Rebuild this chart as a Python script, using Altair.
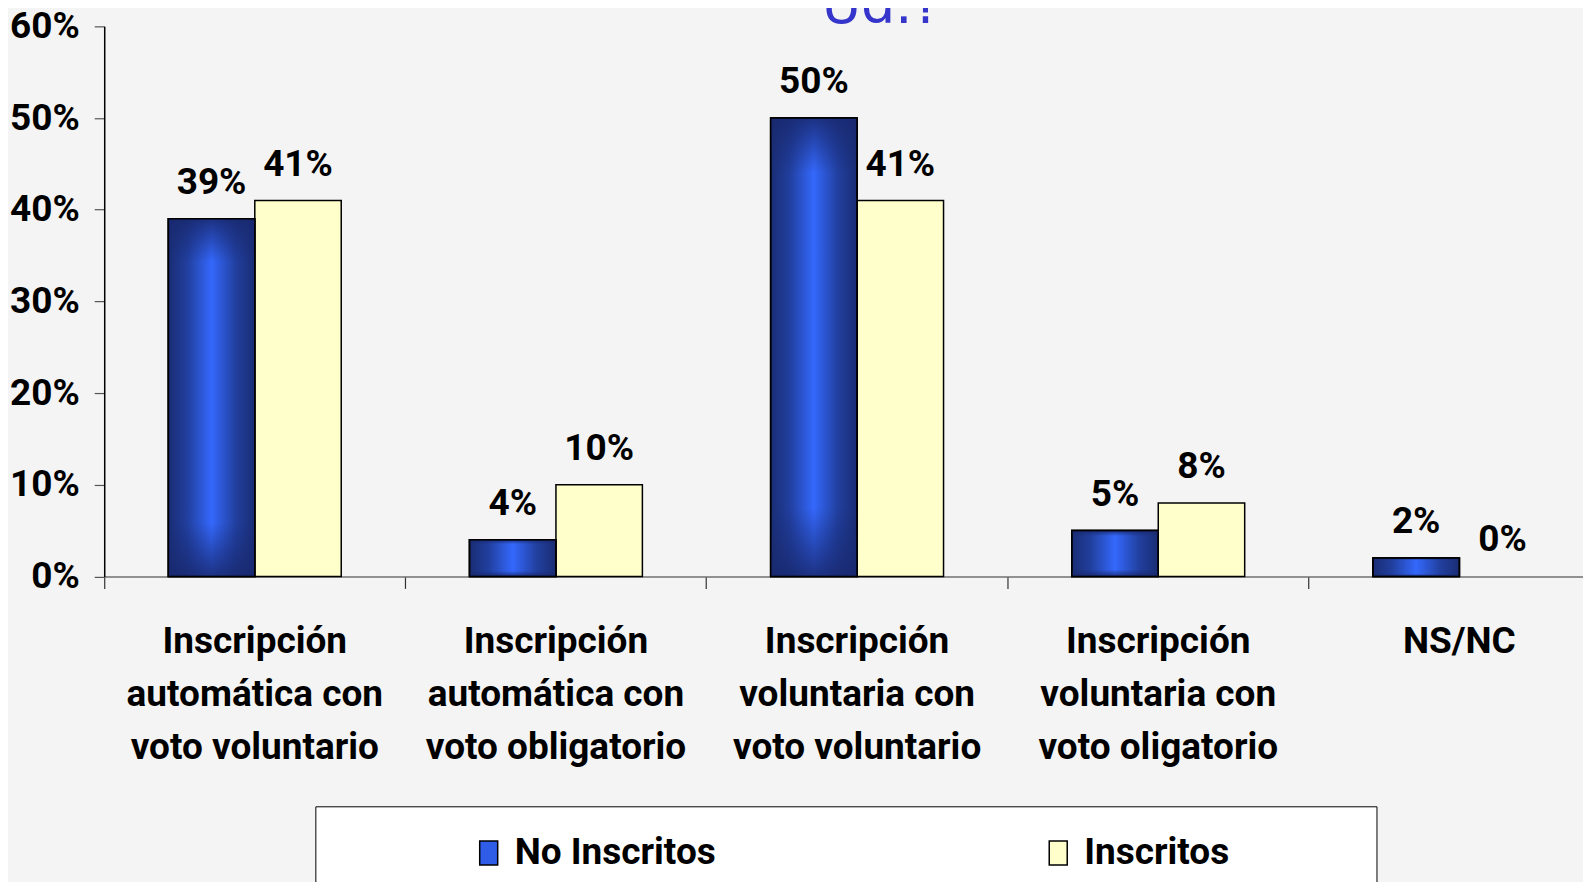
import altair as alt
import pandas as pd

categories = [
    "Inscripción\nautomática con\nvoto voluntario",
    "Inscripción\nautomática con\nvoto obligatorio",
    "Inscripción\nvoluntaria con\nvoto voluntario",
    "Inscripción\nvoluntaria con\nvoto oligatorio",
    "NS/NC",
]
series = ["No Inscritos", "Inscritos"]
no_inscritos = [0.39, 0.04, 0.50, 0.05, 0.02]
inscritos = [0.41, 0.10, 0.41, 0.08, 0.00]
y_ticks = [0.0, 0.1, 0.2, 0.3, 0.4, 0.5, 0.6]
title_text = "Ud.?"

rows = []
for c, a, b in zip(categories, no_inscritos, inscritos):
    rows.append({"categoria": c, "serie": series[0], "valor": a})
    rows.append({"categoria": c, "serie": series[1], "valor": b})
df = pd.DataFrame(rows)

FONT = "Roboto, 'Liberation Sans', sans-serif"
FS = 37

x_enc = alt.X(
    "categoria:N",
    sort=categories,
    scale=alt.Scale(range=[0, 1507], paddingInner=0, paddingOuter=0),
    axis=alt.Axis(
        title=None,
        bandPosition=0,
        labelAngle=0,
        labelExpr="split(datum.label, '\\n')",
        labelFont=FONT,
        labelFontSize=FS,
        labelFontWeight="bold",
        labelColor="black",
        labelLineHeight=53,
        labelLimit=500,
        labelOverlap=False,
        labelPadding=35.5,
        labelBaseline="top",
        tickSize=12,
        tickColor="#333333",
        tickWidth=1.2,
        domainColor="#707070",
        domainWidth=1.5,
        grid=False,
    ),
)
xo_enc = alt.XOffset("serie:N", sort=series, scale=alt.Scale(paddingOuter=0.742, paddingInner=0))
y_enc = alt.Y(
    "valor:Q",
    scale=alt.Scale(domain=[0, 0.6], nice=False, zero=True),
    axis=alt.Axis(
        title=None,
        values=y_ticks,
        format=".0%",
        labelFont=FONT,
        labelFontSize=FS,
        labelFontWeight="bold",
        labelColor="black",
        labelPadding=15,
        labelFlush=False,
        tickSize=10,
        tickColor="#555555",
        tickWidth=1.2,
        domainColor="black",
        domainWidth=1.5,
        grid=False,
    ),
)

PAD_RIGHT = "\u00a0" * 10 + "\u2800"
legend = alt.Legend(
    orient="none",
    legendX=211.3,
    legendY=780.6,
    direction="horizontal",
    title="\u00a0",
    titleOrient="left",
    titleFontSize=10,
    titlePadding=127,
    padding=28,
    fillColor="white",
    strokeColor="black",
    labelFont=FONT,
    labelFontSize=FS,
    labelFontWeight="bold",
    labelColor="black",
    labelLimit=800,
    labelOffset=7.5,
    labelExpr="datum.label == 'Inscritos' ? datum.label + '" + PAD_RIGHT + "' : datum.label",
    symbolType="M-0.75,-1H0.75V1H-0.75Z",
    symbolSize=576,
    symbolStrokeColor="black",
    symbolStrokeWidth=1.5,
    symbolOpacity=1,
    columnPadding=324,
)

color_enc = alt.Color(
    "serie:N",
    sort=series,
    scale=alt.Scale(domain=series, range=["#2f5de8", "#ffffcc"]),
    legend=legend,
)

base = alt.Chart(df)

bars = base.transform_filter(alt.datum.valor > 0).mark_bar(
    stroke="black", strokeWidth=1.5, opacity=1
).encode(x=x_enc, xOffset=xo_enc, y=y_enc, color=color_enc)

blue_grad = alt.LinearGradient(
    gradient="linear",
    x1=0, x2=1, y1=0, y2=0,
    stops=[
        alt.GradientStop(offset=0, color="#1a2d74"),
        alt.GradientStop(offset=0.22, color="#213f9e"),
        alt.GradientStop(offset=0.5, color="#3468fc"),
        alt.GradientStop(offset=0.78, color="#213f9e"),
        alt.GradientStop(offset=1, color="#1a2d74"),
    ],
)
vert_grad = alt.LinearGradient(
    gradient="linear",
    x1=0, x2=0, y1=0, y2=1,
    stops=[
        alt.GradientStop(offset=0, color="rgba(24,40,110,0.85)"),
        alt.GradientStop(offset=0.12, color="rgba(24,40,110,0)"),
        alt.GradientStop(offset=0.85, color="rgba(24,40,110,0)"),
        alt.GradientStop(offset=1, color="rgba(24,40,110,0.85)"),
    ],
)

blue_bars = base.transform_filter(
    (alt.datum.serie == series[0]) & (alt.datum.valor > 0)
).mark_bar(fill=blue_grad, stroke="black", strokeWidth=1.5).encode(
    x=x_enc, xOffset=xo_enc, y=y_enc
)

blue_shade = base.transform_filter(
    (alt.datum.serie == series[0]) & (alt.datum.valor > 0)
).mark_bar(fill=vert_grad, stroke="black", strokeWidth=1.5).encode(
    x=x_enc, xOffset=xo_enc, y=y_enc
)

labels = base.mark_text(
    dy=-25, baseline="alphabetic", align="center",
    font=FONT, fontSize=FS, fontWeight="bold", color="black",
).encode(x=x_enc, xOffset=xo_enc, y=y_enc, text=alt.Text("valor:Q", format=".0%"))

chart = alt.layer(bars, blue_bars, blue_shade, labels).properties(
    width=1480,
    height=550.5,
    background="#f4f4f4",
    autosize=alt.AutoSizeParams(type="none"),
    padding={"left": 96.3, "top": 18, "right": 0, "bottom": 305},
    title=alt.TitleParams(
        text=title_text,
        anchor="start",
        frame="group",
        dx=718,
        dy=70,
        offset=0,
        font="DejaVu Sans",
        fontSize=54,
        fontWeight="normal",
        color="#3535cc",
        baseline="alphabetic",
    ),
).configure_view(stroke=None)

chart.save("out.html", embed_options={"renderer": "svg", "actions": False})
